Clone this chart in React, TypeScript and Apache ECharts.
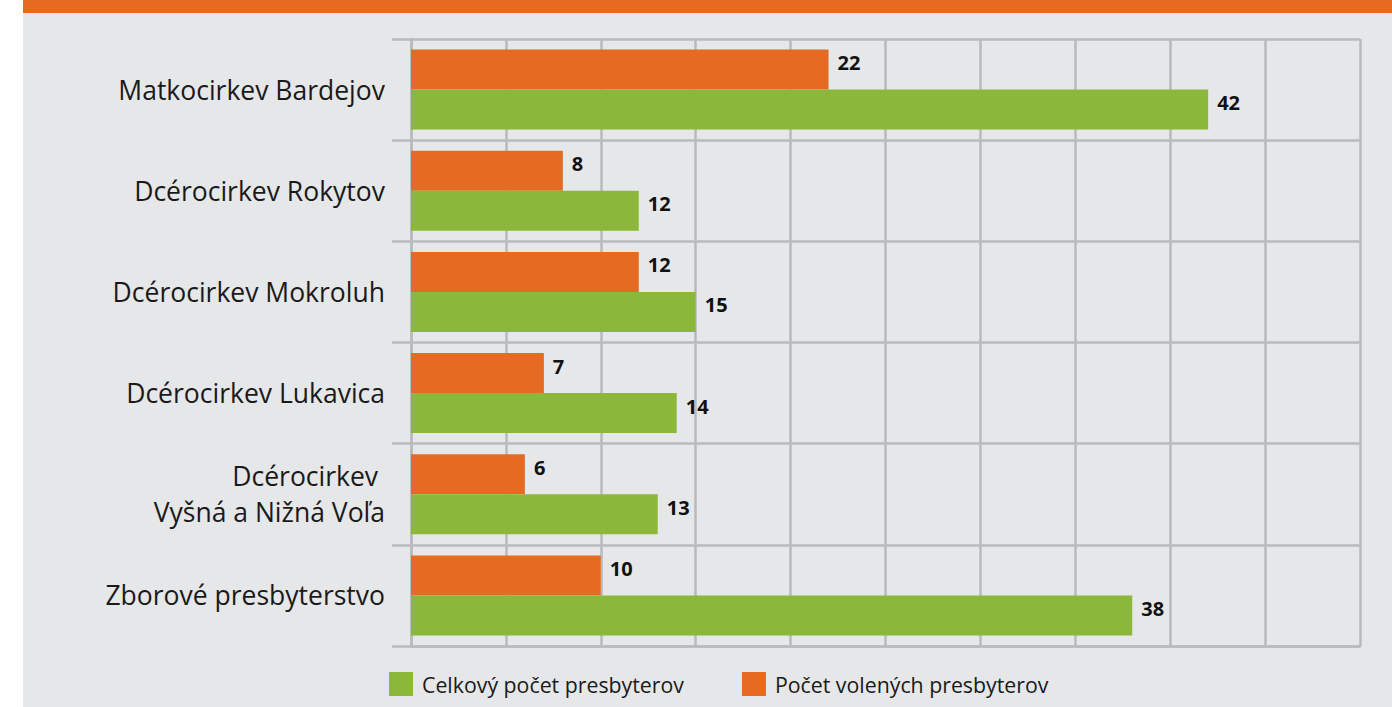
import React, { useEffect, useRef } from "react";
import * as echarts from "echarts";

const categories = [
  "Matkocirkev Bardejov",
  "Dcérocirkev Rokytov",
  "Dcérocirkev Mokroluh",
  "Dcérocirkev Lukavica",
  "Dcérocirkev \nVyšná a Nižná Voľa",
  "Zborové presbyterstvo",
];
const totalName = "Celkový počet presbyterov";
const electedName = "Počet volených presbyterov";
const totalValues = [42, 12, 15, 14, 13, 38];
const electedValues = [22, 8, 12, 7, 6, 10];

const FONT = "'Open Sans', 'Noto Sans', sans-serif";

export default function App() {
  const ref = useRef<HTMLDivElement>(null);
  useEffect(() => {
    if (!ref.current) return;
    const chart = echarts.init(ref.current, null, { renderer: "svg" });
    const label = {
      show: true,
      position: "right",
      distance: 9,
      offset: [0, -7],
      color: "#111",
      fontWeight: "bold",
      fontSize: 20,
      fontFamily: FONT,
    };
    chart.setOption({
      animation: false,
      backgroundColor: "#ffffff",
      graphic: [
        { type: "rect", z: -10, shape: { x: 23, y: 0, width: 1369, height: 707 }, style: { fill: "#e6e7e9" } },
        { type: "rect", z: -10, shape: { x: 23, y: 0, width: 1369, height: 13 }, style: { fill: "#e56b22" } },
      ],
      grid: { left: 411, top: 39, right: 32, bottom: 61, containLabel: false },
      legend: {
        data: [totalName, electedName],
        left: 389,
        top: 672,
        padding: 0,
        itemWidth: 24,
        itemHeight: 24,
        itemGap: 58,
        icon: "rect",
        textStyle: { fontSize: 21.3, color: "#1a1a1a", fontFamily: FONT, padding: [0, 0, 0, 4] },
      },
      xAxis: {
        type: "value",
        min: 0,
        max: 50,
        interval: 5,
        axisLabel: { show: false },
        axisTick: { show: false },
        axisLine: { show: true, lineStyle: { color: "#b8babc", width: 2.5 } },
        splitLine: { show: true, lineStyle: { color: "#b8babc", width: 2.5 } },
      },
      yAxis: {
        type: "category",
        data: categories,
        inverse: true,
        axisLine: { show: true, lineStyle: { color: "#b8babc", width: 2.5 } },
        axisTick: { show: true, length: 19, lineStyle: { color: "#b8babc", width: 2.5 } },
        splitLine: { show: true, lineStyle: { color: "#b8babc", width: 2.5 } },
        axisLabel: {
          fontSize: 26.5,
          color: "#1a1a1a",
          fontFamily: FONT,
          margin: 26,
          lineHeight: 36,
          align: "right",
        },
      },
      series: [
        {
          name: electedName,
          type: "bar",
          data: electedValues,
          barWidth: 40,
          barGap: "0%",
          itemStyle: { color: "#e56b22" },
          label,
        },
        {
          name: totalName,
          type: "bar",
          data: totalValues,
          barWidth: 40,
          barGap: "0%",
          itemStyle: { color: "#8bb83a" },
          label,
        },
      ],
    });
    return () => chart.dispose();
  }, []);
  return <div ref={ref} style={{ position: "absolute", left: 0, top: 0, width: 1392, height: 707 }} />;
}
